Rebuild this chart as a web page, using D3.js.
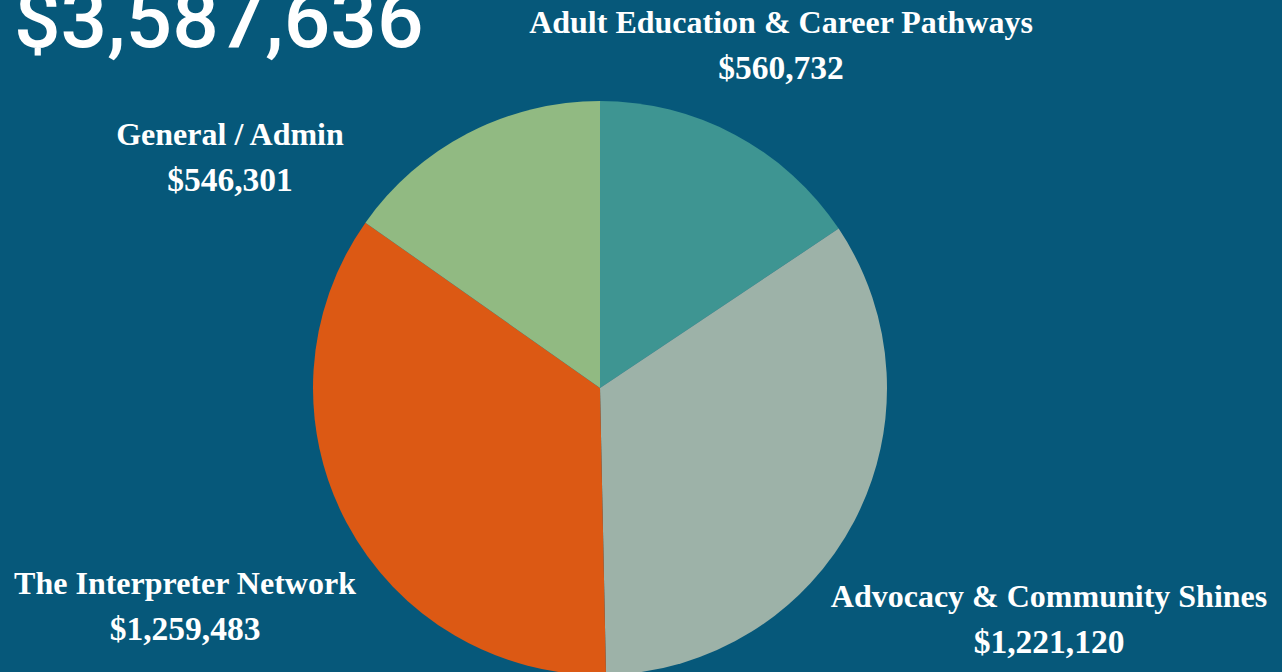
<!DOCTYPE html>
<html>
<head>
<meta charset="utf-8">
<script src="https://cdn.jsdelivr.net/npm/d3@7"></script>
<style>
  html, body { margin: 0; padding: 0; background: #06587a; overflow: hidden; }
  svg { display: block; }
</style>
</head>
<body>
<script>
// data, clockwise from 12 o'clock
let categories = ["Adult Education & Career Pathways", "Advocacy & Community Shines", "The Interpreter Network", "General / Admin"];
let amounts = [560732, 1221120, 1259483, 546301];
let amountLabels = ["$560,732", "$1,221,120", "$1,259,483", "$546,301"];
let sliceColors = ["#3e9592", "#9db2a8", "#dc5914", "#91ba82"];
let totalLabel = "$3,587,636";

// where each label sits (center x, baseline of the name)
let labelPos = [[781, 33], [1049, 607], [185, 594], [230, 145]];

let svgWidth = 1282;
let svgHeight = 672;

let svg = d3.select("body")
            .append("svg")
            .attr("width", svgWidth)
            .attr("height", svgHeight);

svg.append("rect")
   .attr("width", svgWidth)
   .attr("height", svgHeight)
   .attr("fill", "#06587a");

let pie = d3.pie().sort(null).value(d => d);
let arc = d3.arc().innerRadius(0).outerRadius(287);

let g = svg.append("g")
           .attr("transform", "translate(600,388)");

g.selectAll("path")
 .data(pie(amounts))
 .enter()
 .append("path")
   .attr("d", arc)
   .attr("fill", (d, i) => sliceColors[i]);

// big total in the corner (cut by the top edge, as in the original)
svg.append("text")
   .attr("x", 14)
   .attr("y", 47)
   .attr("fill", "#fff")
   .style("font-family", "Roboto, 'Liberation Sans', sans-serif")
   .style("font-weight", 500)
   .style("font-size", "82px")
   .text(totalLabel);

// labels
let labels = svg.selectAll("g.lbl")
                .data(categories)
                .enter()
                .append("g")
                  .attr("class", "lbl")
                  .attr("transform", (d, i) => "translate(" + labelPos[i][0] + "," + labelPos[i][1] + ")")
                  .style("font-family", "'Liberation Serif', 'Times New Roman', serif")
                  .style("font-weight", "bold")
                  .attr("fill", "#fff")
                  .attr("text-anchor", "middle");

labels.append("text")
      .style("font-size", "32px")
      .text(d => d);
labels.append("text")
      .attr("y", 46)
      .style("font-size", "33.5px")
      .text((d, i) => amountLabels[i]);
</script>
</body>
</html>
